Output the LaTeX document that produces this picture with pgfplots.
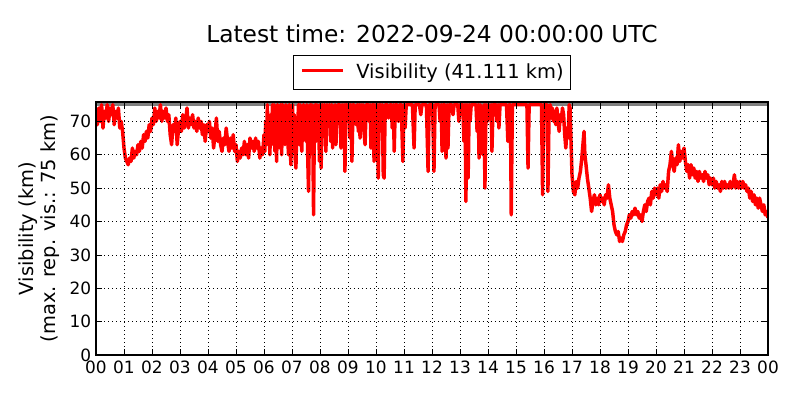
\documentclass[border=0pt]{standalone}
\usepackage{fontspec}
\setmainfont{DejaVu Sans}
\usepackage{pgfplots}
\pgfplotsset{compat=1.18}
\usepackage{pgfplotstable}

\pgfplotstableread{
h v
0.00 72
0.05 69
0.10 74
0.15 70
0.20 75
0.25 68
0.30 73
0.35 71
0.40 75
0.45 70
0.50 74
0.55 72
0.60 75
0.65 69
0.70 73
0.75 71
0.80 74
0.85 68
0.90 70
0.95 67
1.00 62
1.05 59
1.10 58
1.15 57
1.20 59
1.25 58
1.30 62
1.35 59
1.40 61
1.45 60
1.50 63
1.55 61
1.60 64
1.65 62
1.70 66
1.75 64
1.80 67
1.85 65
1.90 69
1.95 67
2.00 71
2.05 69
2.10 74
2.15 70
2.20 73
2.25 71
2.30 75
2.35 70
2.40 73
2.45 71
2.50 74
2.55 70
2.60 72
2.65 66
2.70 63
2.75 69
2.80 67
2.85 71
2.90 63
2.95 68
3.00 70
3.05 67
3.10 72
3.15 68
3.20 70
3.25 74
3.30 68
3.35 71
3.40 69
3.45 72
3.50 68
3.55 70
3.60 67
3.65 71
3.70 68
3.75 70
3.80 66
3.85 69
3.90 64
3.95 69
4.00 67
4.05 70
4.10 65
4.15 68
4.20 62
4.25 66
4.30 71
4.35 64
4.40 67
4.45 63
4.50 61
4.55 65
4.60 63
4.65 68
4.70 64
4.75 61
4.80 65
4.85 62
4.90 66
4.95 61
5.00 63
5.05 58
5.10 61
5.15 59
5.20 62
5.25 60
5.30 64
5.35 60
5.40 63
5.45 59
5.50 65
5.55 62
5.60 64
5.65 61
5.70 65
5.75 62
5.80 64
5.85 59
5.90 62
5.95 60
6.00 66
6.03 61
6.06 70
6.09 63
6.12 75
6.15 64
6.18 68
6.21 60
6.24 72
6.27 63
6.30 75
6.33 66
6.36 75
6.39 61
6.42 69
6.45 58
6.48 75
6.51 65
6.54 71
6.57 62
6.60 75
6.63 60
6.66 75
6.69 66
6.72 73
6.75 63
6.78 75
6.81 67
6.84 72
6.87 60
6.90 75
6.93 64
6.96 57
6.99 70
7.02 75
7.05 62
7.08 72
7.11 59
7.14 56
7.17 68
7.20 66
7.23 75
7.26 63
7.29 75
7.32 65
7.35 61
7.38 72
7.41 75
7.44 66
7.47 71
7.50 64
7.53 75
7.56 60
7.59 49
7.62 66
7.65 75
7.68 63
7.71 75
7.74 68
7.77 42
7.80 70
7.83 75
7.86 64
7.89 75
7.92 65
7.95 72
7.98 58
8.00 75
8.04 56
8.08 75
8.12 70
8.16 75
8.21 61
8.25 75
8.30 72
8.34 75
8.38 64
8.42 75
8.45 62
8.48 74
8.51 66
8.54 75
8.57 63
8.60 72
8.64 75
8.71 75
8.75 62
8.79 75
8.83 66
8.86 75
8.89 55
8.93 75
8.96 75
9.00 70
9.04 75
9.07 65
9.10 75
9.14 58
9.18 75
9.21 75
9.25 71
9.29 69
9.33 75
9.37 67
9.40 75
9.43 65
9.47 75
9.50 70
9.54 75
9.58 66
9.61 63
9.65 75
9.72 75
9.75 70
9.79 75
9.82 62
9.86 75
9.90 75
9.93 58
9.96 75
10.00 68
10.04 75
10.08 53
10.11 75
10.15 75
10.18 72
10.22 75
10.26 54
10.29 53
10.33 75
10.40 75
10.45 71
10.50 75
10.55 75
10.58 68
10.62 75
10.65 61
10.69 75
10.75 75
10.80 70
10.85 75
10.90 75
10.96 58
11.00 75
11.04 68
11.08 75
11.20 75
11.25 75
11.30 75
11.36 62
11.40 75
11.55 75
11.60 72
11.64 75
11.80 75
11.86 55
11.90 75
12.02 75
12.07 55
12.11 75
12.25 75
12.29 70
12.33 75
12.36 61
12.40 75
12.46 75
12.50 59
12.54 75
12.57 62
12.61 75
12.70 75
12.75 72
12.79 75
12.92 75
12.96 70
13.00 75
13.10 75
13.14 64
13.18 75
13.21 46
13.25 75
13.29 53
13.33 75
13.36 70
13.40 75
13.57 75
13.61 67
13.65 75
13.68 59
13.72 75
13.79 70
13.82 60
13.86 75
13.89 50
13.93 75
13.98 70
14.02 75
14.07 73
14.11 75
14.14 61
14.18 75
14.29 75
14.32 70
14.36 75
14.39 68
14.43 75
14.66 75
14.71 64
14.75 75
14.80 75
14.83 42
14.87 75
15.39 75
15.43 56
15.47 75
15.91 75
15.95 48
15.99 75
16.11 75
16.14 49
16.18 72
16.22 75
16.26 71
16.30 74
16.34 70
16.38 73
16.42 69
16.46 74
16.50 70
16.54 67
16.58 72
16.62 70
16.66 74
16.70 72
16.74 66
16.78 62
16.82 68
16.86 65
16.90 75
16.93 74
17.00 54
17.05 49
17.10 48
17.15 52
17.20 50
17.25 53
17.30 55
17.35 59
17.40 64
17.43 67
17.46 60
17.50 57
17.55 53
17.60 50
17.65 47
17.70 43
17.75 46
17.80 48
17.85 45
17.90 47
17.95 45
18.00 48
18.05 46
18.10 47
18.15 45
18.20 48
18.25 47
18.30 51
18.35 47
18.40 45
18.45 43
18.50 39
18.55 37
18.60 36
18.65 37
18.70 34
18.75 35
18.80 34
18.85 36
18.90 37
18.95 39
19.00 40
19.05 42
19.10 41
19.15 43
19.20 42
19.25 44
19.30 42
19.35 43
19.40 41
19.45 42
19.50 40
19.55 43
19.60 45
19.65 43
19.70 46
19.75 47
19.80 45
19.85 49
19.90 47
19.95 50
20.00 48
20.05 50
20.10 47
20.15 51
20.20 49
20.25 52
20.30 50
20.35 51
20.40 49
20.45 55
20.50 57
20.55 61
20.60 57
20.65 55
20.70 59
20.75 57
20.80 63
20.85 58
20.90 61
20.95 59
21.00 62
21.05 58
21.10 55
21.15 57
21.20 53
21.25 57
21.30 54
21.35 56
21.40 53
21.45 55
21.50 52
21.55 55
21.60 53
21.65 54
21.70 52
21.75 55
21.80 53
21.85 54
21.90 51
21.95 53
22.00 51
22.05 53
22.10 50
22.15 52
22.20 50
22.25 51
22.30 49
22.35 52
22.40 50
22.45 52
22.50 50
22.55 51
22.60 50
22.65 52
22.70 50
22.75 51
22.80 54
22.85 50
22.90 52
22.95 50
23.00 52
23.05 50
23.10 52
23.15 50
23.20 51
23.25 49
23.30 50
23.35 47
23.40 49
23.45 46
23.50 48
23.55 45
23.60 47
23.65 44
23.70 47
23.75 45
23.80 43
23.85 45
23.90 42
23.95 43
24.00 41.1
}\vis

\begin{document}
\begin{tikzpicture}
\path[use as bounding box] (0bp,0bp) rectangle (576bp,288bp);
\begin{axis}[
  at={(69.12bp,32.4bp)}, anchor=south west,
  width=483.84bp, height=182.16bp, scale only axis,
  xmin=0, xmax=24, ymin=0, ymax=75.8,
  xtick={0,1,...,24},
  xticklabels={00,01,02,03,04,05,06,07,08,09,10,11,12,13,14,15,16,17,18,19,20,21,22,23,00},
  ytick={0,10,...,70},
  tick align=inside,
  major tick length=4bp,
  every tick/.style={black, line width=0.5bp},
  axis line style={line width=0.8bp},
  /pgf/number format/assume math mode=true,
  tick label style={font=\fontsize{12.2bp}{14bp}\selectfont},
  xticklabel style={yshift=-1bp},
  grid=major,
  major grid style={black, line width=0.5bp, dash pattern=on 0.7bp off 2.2bp},
  axis on top,
  every axis title shift=0pt,
  title={Latest time: 2022-09-24 00:00:00 UTC},
  title style={at={(axis description cs:0.5,1.236)}, anchor=base, font=\fontsize{16.8bp}{20bp}\selectfont, inner sep=0pt},
  ylabel={Visibility (km)\\(max. rep. vis.: 75 km)},
  ylabel style={at={(axis description cs:-0.0848,0.5)}, anchor=center, rotate=0, align=center, font=\fontsize{14bp}{15.8bp}\selectfont, inner sep=0pt},
  legend style={at={(axis description cs:0.5,1.0474)}, anchor=south, draw=black, line width=0.72bp, fill=white,
    inner xsep=5bp, inner ysep=0pt, font=\fontsize{14bp}{16bp}\selectfont,
    nodes={inner xsep=0pt, inner ysep=6.1bp}},
  legend image code/.code={\path[draw=none, fill=none] (0bp,-1.8bp) rectangle (39.3bp,1.8bp); \draw[#1, line width=2bp] (0bp,1.8bp) -- (29.5bp,1.8bp);},
]
\addplot[forget plot, color={rgb,255:red,128;green,128;blue,128}, line width=2.2bp] coordinates {(0,75) (24,75)};
\addplot[color={rgb,255:red,255;green,0;blue,0}, line width=2.5bp, line join=round] table[x=h, y=v] {\vis};
\addlegendentry{Visibility (41.111 km)}
\end{axis}
\end{tikzpicture}
\end{document}
